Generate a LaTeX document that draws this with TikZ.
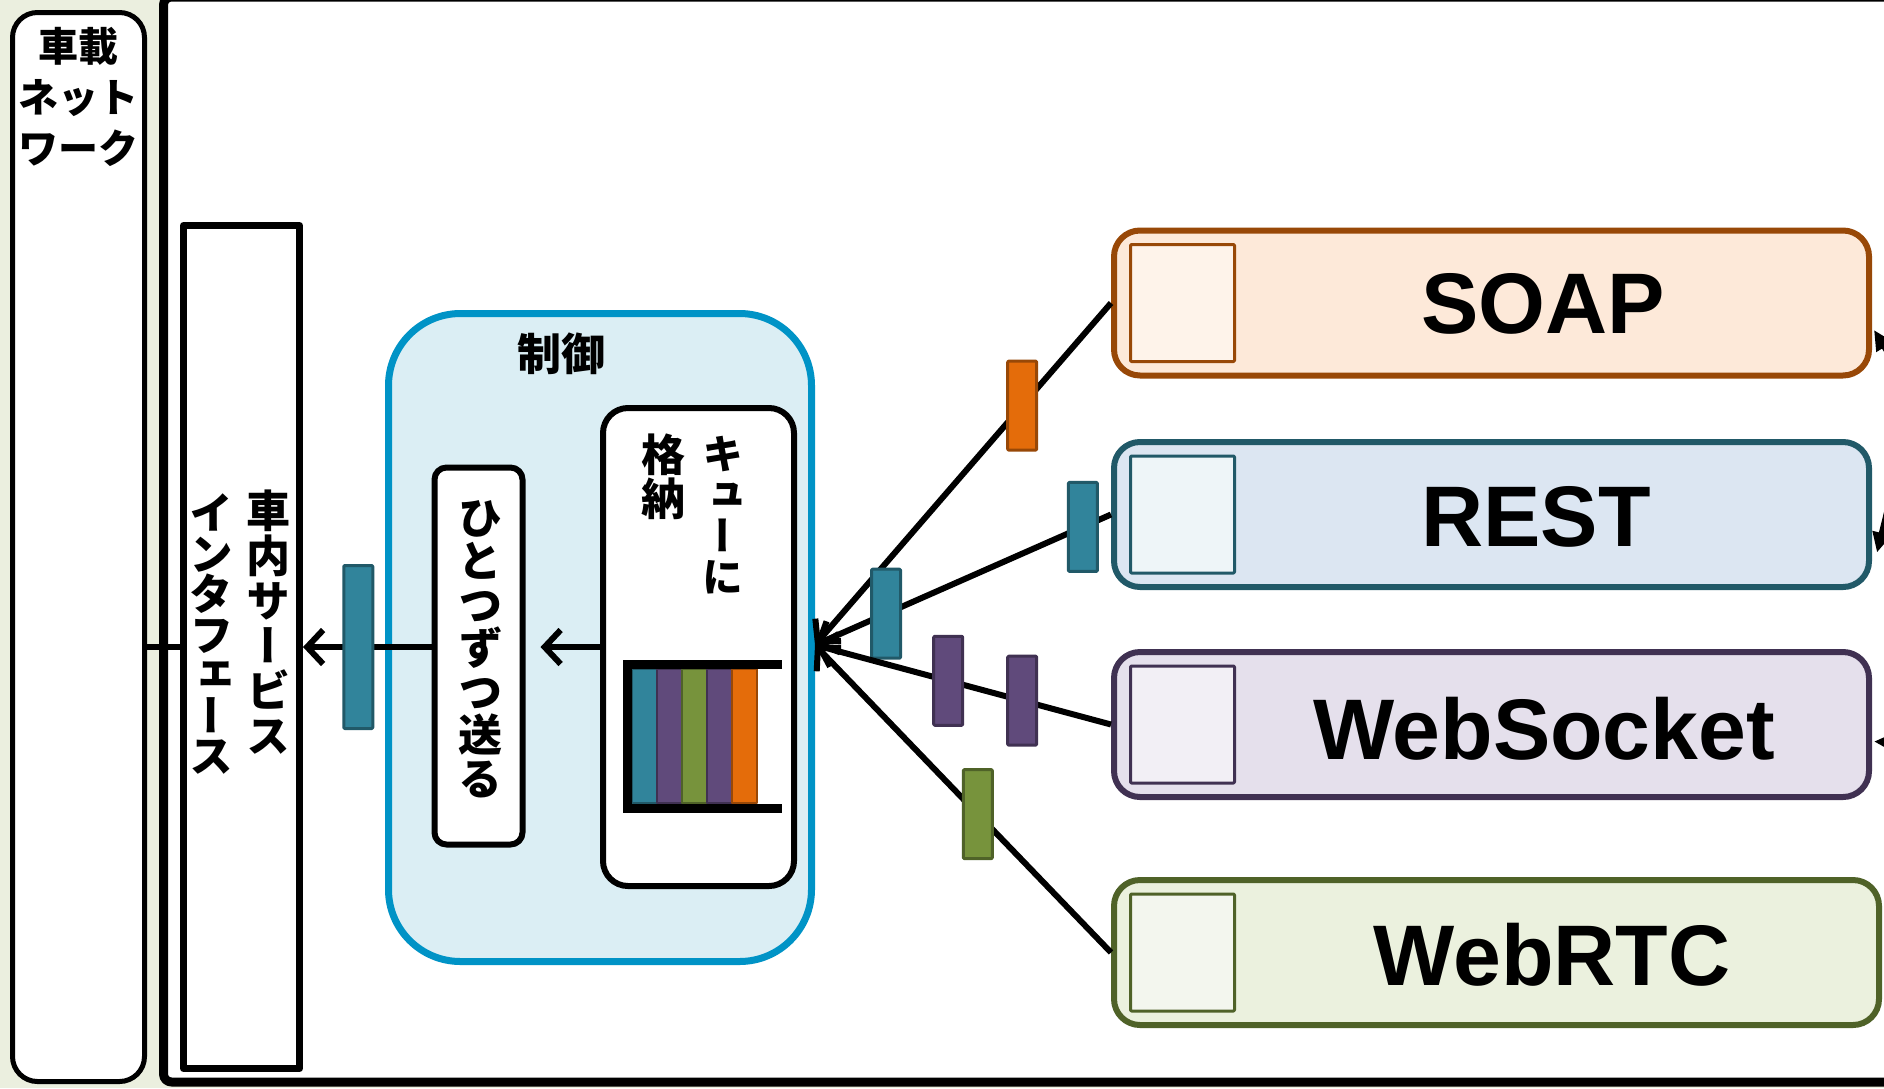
\documentclass[tikz,border=0pt]{standalone}
\usepackage{fontspec}
\setmainfont{Liberation Sans}
\newfontfamily\jpfont{Noto Sans CJK JP}
\newfontfamily\jpvfont[RawFeature=+vert]{Noto Sans CJK JP}
\usetikzlibrary{calc,arrows.meta,positioning}

\definecolor{bgcol}{HTML}{EBEFDF}
\definecolor{ctrlline}{HTML}{0093C6}
\definecolor{ctrlfill}{HTML}{DBEEF4}
\definecolor{soapline}{HTML}{984807}
\definecolor{soapfill}{HTML}{FDE9D9}
\definecolor{soapin}{HTML}{FEF3EA}
\definecolor{soaptag}{HTML}{E46C0A}
\definecolor{restline}{HTML}{215968}
\definecolor{restfill}{HTML}{DCE6F2}
\definecolor{restin}{HTML}{EEF5F8}
\definecolor{resttag}{HTML}{31849B}
\definecolor{wsline}{HTML}{403152}
\definecolor{wsfill}{HTML}{E5E0EC}
\definecolor{wsin}{HTML}{F2EFF5}
\definecolor{wstag}{HTML}{604A7B}
\definecolor{rtcline}{HTML}{4F6228}
\definecolor{rtcfill}{HTML}{EBF1DE}
\definecolor{rtcin}{HTML}{F3F6EE}
\definecolor{rtctag}{HTML}{77933C}

\tikzset{
  blk/.style={draw, fill=white, inner sep=0pt},
  vtext/.style={font=\jpvfont\bfseries\fontsize{44}{#1}\selectfont, align=center, inner sep=0pt, anchor=north},
  vtext/.default=44,
  svc/.style={draw=#1line, fill=#1fill, line width=6pt, rounded corners=26pt, minimum width=755pt, minimum height=145pt, inner sep=0pt},
  svcicon/.style={draw=#1line, fill=#1in, line width=3pt, minimum width=104pt, minimum height=117pt, inner sep=0pt, rounded corners=1pt},
  svclabel/.style={font=\bfseries\fontsize{86}{86}\selectfont, inner sep=0pt},
  tag/.style={draw=#1line, fill=#1tag, line width=3pt, minimum width=29pt, minimum height=89pt, inner sep=0pt, rounded corners=1pt},
  conn/.style={line width=6pt},
}

\begin{document}
\begin{tikzpicture}[x=1pt, y=-1pt, line join=round, >={Straight Barb[length=16pt,width=34pt]}]
  \useasboundingbox (0,0) rectangle (1884,1088);
  \clip (0,0) rectangle (1884,1088);
  \fill[bgcol] (0,0) rectangle (1884,1088);
  % outer frame
  \draw[line width=9pt, fill=white, rounded corners=8pt] (163.5,-3) rectangle (1990,1082);

  % in-vehicle network
  \node[blk, line width=5pt, rounded corners=25pt, minimum width=132pt, minimum height=1069pt] (netbox) at (78.5,547) {};
  \node[font=\jpfont\bfseries\fontsize{40}{51}\selectfont, align=center, anchor=north, inner sep=0pt] (netlabel) at (78.5,27) {車載\\ネット\\ワーク};

  % in-vehicle service interface
  \node[blk, line width=7pt, minimum width=116pt, minimum height=843pt] (ifbox) at (241.5,647) {};
  \node[vtext=45] (iftext1) at (268,490) {車\\内\\サ\\ー\\ビ\\ス};
  \node[vtext=40.5] (iftext2) at (211,494) {イ\\ン\\タ\\フ\\ェ\\ー\\ス};

  % control
  \node[draw=ctrlline, fill=ctrlfill, line width=7pt, rounded corners=72pt, minimum width=423pt, minimum height=648pt] (ctrl) at (600,637.5) {};
  \node[font=\jpfont\bfseries\fontsize{44}{44}\selectfont, inner sep=0pt] (ctrllabel) at (561,354) {制御};

  \node[blk, line width=6pt, rounded corners=12pt, minimum width=88pt, minimum height=377pt] (sendbox) at (478.5,656) {};
  \node[vtext=43.5] (sendtext) at (480,500) {ひ\\と\\つ\\ず\\つ\\送\\る};

  \node[blk, line width=6pt, rounded corners=25pt, minimum width=191pt, minimum height=478pt] (queuebox) at (698.5,647) {};
  \node[vtext, font=\jpvfont\bfseries\fontsize{41}{41}\selectfont] (queuetext1) at (723,436) {キ\\ュ\\ー\\に};
  \node[vtext] (queuetext2) at (663,434) {格\\納};

  % queue
  \foreach \x/\fc/\lc in {632/resttag/restline, 657/wstag/wsline, 682/rtctag/rtcline, 707/wstag/wsline, 732/soaptag/soapline}
    \draw[draw=\lc, fill=\fc, line width=2pt] (\x,669) rectangle +(25,134);
  \draw[line width=9pt, line join=miter] (782,664.5) -- (627.5,664.5) -- (627.5,808) -- (782,808);

  \draw[conn, ->, shorten >=15pt] (queuebox.west) -- (queuebox.west -| sendbox.east);
  \draw[conn, ->] (queuebox.west -| sendbox.west) -- (queuebox.west -| ifbox.east)
    node[tag=rest, minimum height=163pt, pos=0.57] (iftag) {};
  \draw[conn] (netbox.east |- queuebox.west) -- (ifbox.west |- queuebox.west);

  % services
  \node[svc=soap] (soap) at (1491.5,303) {};
  \node[svc=rest] (rest) at (1491.5,514.5) {};
  \node[svc=ws] (websock) at (1491.5,724.5) {};
  \node[svc=rtc, minimum width=765pt] (webrtc) at (1496.5,952.5) {};

  \node[svcicon=soap] (soapicon) at ([xshift=71.5pt]soap.west) {};
  \node[svcicon=rest] (resticon) at ([xshift=71.5pt]rest.west) {};
  \node[svcicon=ws] (wsicon) at ([xshift=71.5pt]websock.west) {};
  \node[svcicon=rtc] (rtcicon) at ([xshift=71.5pt]webrtc.west) {};

  \node[svclabel] (soaptext) at (1543,304) {SOAP};
  \node[svclabel] (resttext) at (1536,517) {REST};
  \node[svclabel] (wstext) at (1544,729) {WebSocket};
  \node[svclabel] (rtctext) at (1552,955) {WebRTC};

  \coordinate (recv) at (815,645);
  \draw[conn, ->] (soap.west) -- (recv) node[tag=soap, pos=.30] (soaptag) {};
  \draw[conn, ->] (rest.west) -- (recv) node[tag=rest, pos=.095] (resttag1) {}
    node[tag=rest, pos=.76] (resttag2) {};
  \draw[conn, ->] (websock.west) -- (recv) node[tag=ws, pos=.30] (wstag2) {}
    node[tag=ws, pos=.55] (wstag1) {};
  \draw[conn, ->] (webrtc.west) -- (recv) node[tag=rtc, pos=.45] (rtctag) {};

  % arrows coming in from the right
  \coordinate (soapsrc) at (1905,380);
  \coordinate (restsrc) at (1895,480);
  \coordinate (wssrc) at (1950,745);
  \draw[conn, -{Triangle[length=20pt,width=18pt]}] (soapsrc) -- ($(soap.east)+(2,27)$);
  \draw[conn, -{Triangle[length=20pt,width=18pt]}] (restsrc) -- ($(rest.east)+(5,38)$);
  \draw[conn, -{Triangle[length=20pt,width=18pt]}] (wssrc) -- ($(websock.east)+(2,17)$);
\end{tikzpicture}
\end{document}
